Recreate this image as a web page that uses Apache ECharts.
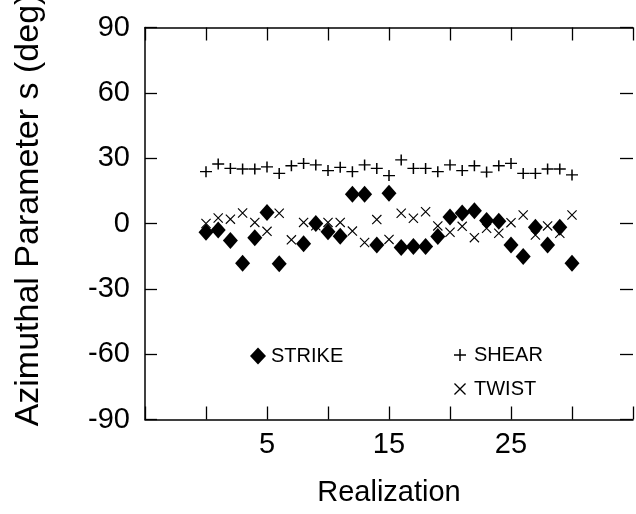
<!DOCTYPE html>
<html>
<head>
<meta charset="utf-8">
<script src="https://cdn.jsdelivr.net/npm/echarts@6/dist/echarts.min.js"></script>
<style>
  html, body { margin: 0; padding: 0; background: #fff; }
  #chart { width: 636px; height: 514px; }
</style>
</head>
<body>
<div id="chart"></div>
<script>
// Realization index (x)
const realization = [0,1,2,3,4,5,6,7,8,9,10,11,12,13,14,15,16,17,18,19,20,21,22,23,24,25,26,27,28,29,30];
// Azimuthal parameter values (deg)
const strike = [-4, -3, -7.8, -18.3, -6.5, 5, -18.5, null, -9.3, 0, -3.8, -5.8, 13.4, 13.4, -9.9, 13.9, -11, -10.6, -10.6, -6, 3, 4.8, 5.8, 1.4, 1, -9.9, -15.2, -1.7, -9.9, -1.7, -18.3];
const shear = [23.8, 27.3, 25.3, 25, 25, 26, 23, 26.5, 27.6, 26.9, 24.3, 25.8, 23.8, 26.9, 25.3, 22, 29.2, 25.3, 25.3, 23.8, 26.9, 24.3, 26.5, 23.6, 26.5, 27.6, 23, 23, 25, 25, 22.3];
const twist = [0, 2.5, 2, 4.8, 0.5, -3.6, 4.7, -7.5, 0.5, -1, 0.5, 0.5, -3.5, -8.7, 1.8, -7.3, 4.7, 2.4, 5.4, -1.1, -4, -1.3, -6.5, -2.2, -4.5, 0.4, 3.9, -5.3, -1.1, -4.5, 3.9];
// Tick labels
const xTickLabels = [5, 15, 25];
const yTicks = [-90, -60, -30, 0, 30, 60, 90];

const FONT = '"Liberation Sans", Arial, Helvetica, sans-serif';
const PLUS = 'path://M5.25,0H6.75V12H5.25Z M0,5.25H12V6.75H0Z';
const CROSS = 'path://M0,0.8L0.8,0L10,9.2L9.2,10Z M9.2,0L10,0.8L0.8,10L0,9.2Z';

function pairs(vals) {
  return realization.map((x, i) => [x, vals[i]]).filter(p => p[1] !== null);
}

const axisLine = { show: true, onZero: false, lineStyle: { color: '#000', width: 1.5 } };
const tick = (len) => ({ show: true, inside: true, length: len, lineStyle: { color: '#000', width: 1.3 } });

const chart = echarts.init(document.getElementById('chart'), null, { renderer: 'canvas' });
chart.setOption({
  animation: false,
  backgroundColor: '#fff',
  grid: { left: 145, width: 492, top: 27.5, height: 392, containLabel: false },
  xAxis: [
    {
      type: 'value', position: 'bottom', min: -5, max: 35, interval: 5,
      axisLine: axisLine, axisTick: tick(13), splitLine: { show: false },
      axisLabel: {
        margin: 11, fontSize: 29, color: '#000', fontFamily: FONT,
        formatter: v => (xTickLabels.indexOf(v) >= 0 ? String(v) : '')
      },
      name: 'Realization', nameLocation: 'middle', nameGap: 59,
      nameTextStyle: { fontSize: 29, color: '#000', fontFamily: FONT }
    },
    {
      type: 'value', position: 'top', min: -5, max: 35, interval: 5,
      axisLine: axisLine, axisTick: tick(13), axisLabel: { show: false }, splitLine: { show: false }
    }
  ],
  yAxis: [
    {
      type: 'value', position: 'left', min: yTicks[0], max: yTicks[yTicks.length - 1], interval: 30,
      axisLine: axisLine, axisTick: tick(12), splitLine: { show: false },
      axisLabel: { margin: 15, fontSize: 29, color: '#000', fontFamily: FONT }
    },
    {
      type: 'value', position: 'right', min: yTicks[0], max: yTicks[yTicks.length - 1], interval: 30,
      axisLine: { show: false, onZero: false }, axisTick: tick(13), axisLabel: { show: false }, splitLine: { show: false }
    }
  ],
  legend: [
    {
      data: ['STRIKE'], left: 245, top: 341, orient: 'horizontal',
      itemWidth: 16, itemHeight: 17,
      textStyle: { fontSize: 20, color: '#000', fontFamily: FONT }
    },
    {
      data: ['SHEAR', 'TWIST'], left: 449, top: 340, orient: 'vertical',
      itemWidth: 12, itemHeight: 12, itemGap: 14,
      textStyle: { fontSize: 20, color: '#000', fontFamily: FONT, padding: [0, 0, 0, 3] }
    }
  ],
  series: [
    {
      name: 'TWIST', type: 'scatter', data: pairs(twist),
      symbol: CROSS, symbolSize: 10,
      itemStyle: { color: '#000', opacity: 1 }
    },
    {
      name: 'SHEAR', type: 'scatter', data: pairs(shear),
      symbol: PLUS, symbolSize: [12, 11],
      itemStyle: { color: '#000', opacity: 1 }
    },
    {
      name: 'STRIKE', type: 'scatter', data: pairs(strike),
      symbol: 'diamond', symbolSize: [15, 17],
      itemStyle: { color: '#000', opacity: 1 }
    }
  ],
  graphic: [
    {
      type: 'text', x: 29, y: 210, rotation: Math.PI / 2,
      style: {
        text: 'Azimuthal Parameter s (deg)', fill: '#000',
        font: '34px ' + FONT, align: 'center', verticalAlign: 'middle'
      }
    }
  ]
});
</script>
</body>
</html>
